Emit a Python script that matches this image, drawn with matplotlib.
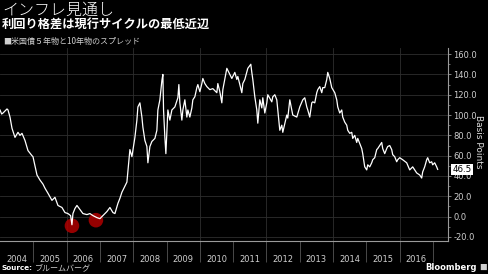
import matplotlib
matplotlib.use("Agg")
import matplotlib.pyplot as plt
from matplotlib.ticker import MultipleLocator, FixedLocator, NullFormatter

# --- data: 5y/10y Treasury spread (bp) ---
years = [
    2004.00, 2004.05, 2004.09, 2004.15, 2004.21, 2004.24, 2004.30, 2004.36, 2004.45, 2004.54,
    2004.60, 2004.66, 2004.75, 2004.84, 2004.96, 2004.99, 2005.05, 2005.11, 2005.20, 2005.29,
    2005.35, 2005.44, 2005.56, 2005.65, 2005.74, 2005.86, 2005.95, 2006.04, 2006.12, 2006.16,
    2006.19, 2006.25, 2006.31, 2006.40, 2006.49, 2006.61, 2006.70, 2006.79, 2006.91, 2007.00,
    2007.09, 2007.21, 2007.30, 2007.39, 2007.45, 2007.54, 2007.60, 2007.66, 2007.69, 2007.75,
    2007.81, 2007.84, 2007.87, 2007.90, 2007.96, 2008.05, 2008.11, 2008.14, 2008.20, 2008.26,
    2008.29, 2008.35, 2008.41, 2008.44, 2008.50, 2008.56, 2008.59, 2008.65, 2008.71, 2008.74,
    2008.80, 2008.86, 2008.89, 2008.91, 2008.95, 2008.98, 2009.04, 2009.10, 2009.16, 2009.25,
    2009.34, 2009.37, 2009.40, 2009.46, 2009.49, 2009.55, 2009.61, 2009.64, 2009.70, 2009.76,
    2009.79, 2009.85, 2009.91, 2009.94, 2010.00, 2010.06, 2010.09, 2010.15, 2010.21, 2010.30,
    2010.39, 2010.51, 2010.54, 2010.60, 2010.66, 2010.69, 2010.81, 2010.90, 2010.96, 2011.05,
    2011.11, 2011.14, 2011.26, 2011.29, 2011.35, 2011.44, 2011.53, 2011.56, 2011.59, 2011.65,
    2011.71, 2011.74, 2011.80, 2011.86, 2011.89, 2011.95, 2012.01, 2012.04, 2012.16, 2012.19,
    2012.25, 2012.31, 2012.34, 2012.40, 2012.46, 2012.49, 2012.61, 2012.64, 2012.70, 2012.76,
    2012.79, 2012.91, 2013.00, 2013.09, 2013.15, 2013.21, 2013.24, 2013.30, 2013.36, 2013.39,
    2013.45, 2013.51, 2013.54, 2013.60, 2013.66, 2013.69, 2013.75, 2013.81, 2013.84, 2013.90,
    2013.96, 2014.05, 2014.11, 2014.14, 2014.20, 2014.26, 2014.29, 2014.35, 2014.41, 2014.44,
    2014.50, 2014.56, 2014.59, 2014.65, 2014.71, 2014.74, 2014.80, 2014.86, 2014.89, 2014.95,
    2015.01, 2015.04, 2015.10, 2015.16, 2015.19, 2015.25, 2015.31, 2015.34, 2015.40, 2015.46,
    2015.49, 2015.55, 2015.61, 2015.64, 2015.70, 2015.76, 2015.79, 2015.85, 2015.91, 2015.94,
    2016.00, 2016.09, 2016.21, 2016.30, 2016.39, 2016.51, 2016.60, 2016.66, 2016.69, 2016.75,
    2016.81, 2016.84, 2016.90, 2016.96, 2016.99, 2017.05, 2017.11, 2017.14,
]
spread = [
    105, 101, 102, 104, 106, 105, 98, 87, 78, 83,
    80, 82, 75, 65, 60, 59, 50, 41, 36, 32,
    28, 23, 16, 19, 11, 9, 4, 3, 1, -8,
    3, 8, 11, 7, 3, 2, 3, 1, -1, -2,
    1, 5, 9, 4, 3, 13, 18, 24, 26, 30,
    34, 45, 56, 66, 59, 78, 95, 108, 112, 98,
    88, 75, 69, 53, 69, 74, 75, 77, 85, 105,
    115, 134, 140, 105, 78, 62, 105, 95, 105, 108,
    117, 130, 112, 95, 105, 115, 98, 105, 98, 107,
    115, 118, 127, 130, 123, 131, 136, 131, 128, 125,
    126, 122, 131, 123, 112, 125, 146, 140, 136, 142,
    135, 138, 122, 131, 135, 146, 150, 142, 135, 118,
    105, 92, 115, 107, 117, 102, 112, 120, 113, 118,
    120, 115, 105, 85, 90, 83, 100, 97, 115, 105,
    100, 98, 108, 115, 117, 108, 105, 98, 112, 113,
    112, 122, 125, 128, 122, 127, 127, 135, 142, 136,
    127, 122, 115, 108, 102, 105, 98, 93, 90, 85,
    82, 83, 77, 80, 73, 77, 72, 67, 62, 49,
    46, 51, 49, 53, 56, 58, 66, 67, 70, 73,
    67, 62, 67, 69, 70, 66, 61, 59, 54, 56,
    58, 56, 53, 46, 49, 43, 41, 38, 44, 49,
    56, 58, 53, 54, 51, 53, 49, 46.5,
]
last_value = 46.5

# highlighted lows
low_years = [2006.16, 2006.88]
low_values = [-9, -3.5]

year_labels = list(range(2004, 2017))

W, H = 488, 274


def fx(px):
    return px / W


def fy(py):
    return 1 - py / H


fig = plt.figure(figsize=(W / 100, H / 100), dpi=100, facecolor="black")
ax = fig.add_axes([0, fy(241), fx(448), fy(48) - fy(241)], facecolor="black")

ax.plot(years, spread, color="white", lw=0.9, zorder=3)
ax.scatter(low_years, low_values, s=110, color="#b00000", alpha=0.85,
           edgecolors="none", zorder=2)

ax.set_xlim(2004.0, 2017.45)
ax.set_ylim(-24, 166)

# y axis on the right
ax.yaxis.tick_right()
ax.yaxis.set_major_locator(MultipleLocator(20))
ax.yaxis.set_minor_locator(MultipleLocator(10))
ax.yaxis.set_major_formatter(matplotlib.ticker.FormatStrFormatter("%.1f"))
ax.tick_params(axis="y", which="major", colors="#cfcfcf", labelsize=6,
               length=2.5, width=0.6, pad=1.5, color="#9a9a9a")
ax.tick_params(axis="y", which="minor", length=1.5, width=0.5, color="#9a9a9a")

# x axis: labels centred in each year, separators at year starts
ax.xaxis.set_major_locator(FixedLocator([y + 0.5 for y in year_labels]))
ax.set_xticklabels([str(y) for y in year_labels])
ax.xaxis.set_minor_locator(FixedLocator(list(range(2005, 2018))))
ax.xaxis.set_minor_formatter(NullFormatter())
ax.tick_params(axis="x", which="major", length=0, pad=10, labelsize=6,
               colors="#cfcfcf")
ax.tick_params(axis="x", which="minor", length=15, width=0.6, color="#555555")

# grid
for v in range(-20, 161, 20):
    ax.axhline(v, color="#2e2e2e", lw=0.6, zorder=0)
for y in range(2006, 2018, 2):
    ax.axvline(y, color="#2e2e2e", lw=0.6, zorder=0)

for side in ["top", "left"]:
    ax.spines[side].set_visible(False)
ax.spines["right"].set_color("#9a9a9a")
ax.spines["bottom"].set_color("#9a9a9a")
ax.spines["right"].set_linewidth(0.8)
ax.spines["bottom"].set_linewidth(0.8)

# last value box
ax.annotate(f"{last_value}", xy=(1, last_value), xycoords=("axes fraction", "data"),
            xytext=(3, 0), textcoords="offset points", va="center", ha="left",
            fontsize=6.3, color="black",
            bbox=dict(boxstyle="square,pad=0.15", fc="white", ec="none"))

cjk = ["Noto Sans CJK JP", "DejaVu Sans"]
fig.text(fx(478), fy(142), "Basis Points", rotation=270, ha="center", va="center",
         fontsize=6.5, color="#dddddd")

fig.text(fx(2), fy(10), "インフレ見通し", fontsize=11.5, color="white",
         family=cjk, weight="light", va="center", ha="left")
fig.text(fx(2), fy(24), "利回り格差は現行サイクルの最低近辺", fontsize=8.8,
         color="white", family=cjk, weight="bold", va="center", ha="left")
fig.text(fx(3), fy(41), "■米国債５年物と10年物のスプレッド", fontsize=5.8,
         color="#d0d0d0", family=cjk, va="center", ha="left")

fig.text(fx(2), fy(268), "Source:", fontsize=5.2, color="white",
         weight="bold", va="center", ha="left")
fig.text(fx(35), fy(268), "ブルームバーグ", fontsize=5.8, color="#cfcfcf",
         family=cjk, style="italic", va="center", ha="left")
fig.text(fx(477), fy(268), "Bloomberg", fontsize=6, color="white",
         weight="bold", va="center", ha="right")
fig.text(fx(479), fy(268), "■", fontsize=5.5, color="#cfcfcf",
         family=cjk, va="center", ha="left")

fig.savefig("out.png", dpi=100, facecolor="black")
